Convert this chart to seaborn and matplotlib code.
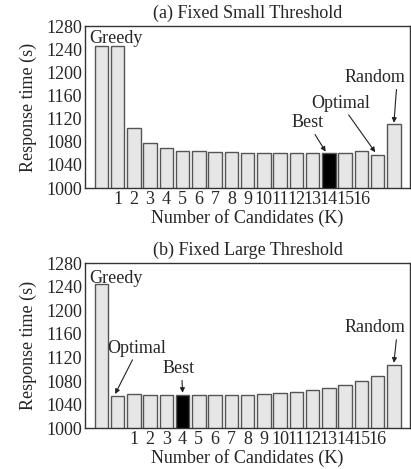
import pandas as pd
import matplotlib.pyplot as plt
import seaborn as sns

sns.set_style("white")
plt.rcParams['font.family'] = ['Liberation Serif', 'DejaVu Serif']

# Response times per bar (Greedy, K=1..16 / Optimal, Random)
small_labels = ['', '1', '2', '3', '4', '5', '6', '7', '8', '9', '10', '11', '12', '13', '14', '15', '16', '', '']
small_values = [1245, 1245, 1104, 1078, 1070, 1065, 1064, 1062, 1062, 1061, 1061, 1061, 1061, 1061, 1061, 1061, 1064, 1057, 1111]
small_best = 14

large_labels = ['', '', '1', '2', '3', '4', '5', '6', '7', '8', '9', '10', '11', '12', '13', '14', '15', '16', '']
large_values = [1244, 1055, 1058, 1056, 1056, 1056, 1056, 1056, 1057, 1057, 1058, 1060, 1062, 1065, 1069, 1073, 1080, 1089, 1108]
large_best = 5

yticks = [1000, 1040, 1080, 1120, 1160, 1200, 1240, 1280]

fig = plt.figure(figsize=(4.11, 4.69), dpi=100)
ax1 = fig.add_axes([0.207, 0.599, 0.791, 0.345])
ax2 = fig.add_axes([0.207, 0.087, 0.791, 0.352])

arrow = dict(arrowstyle='-|>', color='#222222', lw=0.8, mutation_scale=7, shrinkA=0, shrinkB=0)


def draw(ax, labels, values, best, title):
    df = pd.DataFrame({'pos': range(len(values)), 'time': values})
    colors = ['#e6e6e6'] * len(values)
    colors[best] = 'black'
    sns.barplot(data=df, x='pos', y='time', hue='pos', palette=colors, legend=False,
                width=0.82, edgecolor='#555555', linewidth=1.0, ax=ax)
    ax.set_xlim(-1, 19)
    ax.set_ylim(1000, 1280)
    ax.set_yticks(yticks)
    ax.set_xticks(range(len(labels)))
    ax.set_xticklabels(labels)
    ax.tick_params(axis='x', length=0, labelsize=13, pad=2)
    ax.tick_params(axis='y', direction='in', length=3, labelsize=13, pad=2, color='#333333')
    ax.set_xlabel('Number of Candidates (K)', fontsize=13, labelpad=1)
    ax.set_ylabel('Response time (s)', fontsize=13, labelpad=7)
    ax.set_title(title, fontsize=13, pad=6)
    for s in ax.spines.values():
        s.set_color('#333333')
        s.set_linewidth(1.0)


draw(ax1, small_labels, small_values, small_best, '(a) Fixed Small Threshold')
draw(ax2, large_labels, large_values, large_best, '(b) Fixed Large Threshold')

# (a) annotations
ax1.text(-0.75, 1258, 'Greedy', fontsize=13, ha='left', va='center')
ax1.annotate('Best', xy=(13.8, 1063), xytext=(12.7, 1113), fontsize=13,
             ha='center', va='center', arrowprops=arrow)
ax1.annotate('Optimal', xy=(16.85, 1062), xytext=(14.7, 1147), fontsize=13,
             ha='center', va='center', arrowprops=arrow)
ax1.annotate('Random', xy=(18, 1113), xytext=(16.86, 1191), fontsize=13,
             ha='center', va='center', arrowprops=dict(arrow, relpos=(0.85, 0)))

# (b) annotations
ax2.text(-0.75, 1254, 'Greedy', fontsize=13, ha='left', va='center')
ax2.annotate('Optimal', xy=(0.85, 1058), xytext=(2.2, 1136), fontsize=13,
             ha='center', va='center', arrowprops=dict(arrow, relpos=(0.45, 0)))
ax2.annotate('Best', xy=(5, 1060), xytext=(4.76, 1101), fontsize=13,
             ha='center', va='center', arrowprops=dict(arrow, relpos=(0.6, 0)))
ax2.annotate('Random', xy=(18, 1111), xytext=(16.86, 1170), fontsize=13,
             ha='center', va='center', arrowprops=dict(arrow, relpos=(0.85, 0)))

plt.savefig('out.png', dpi=100)
